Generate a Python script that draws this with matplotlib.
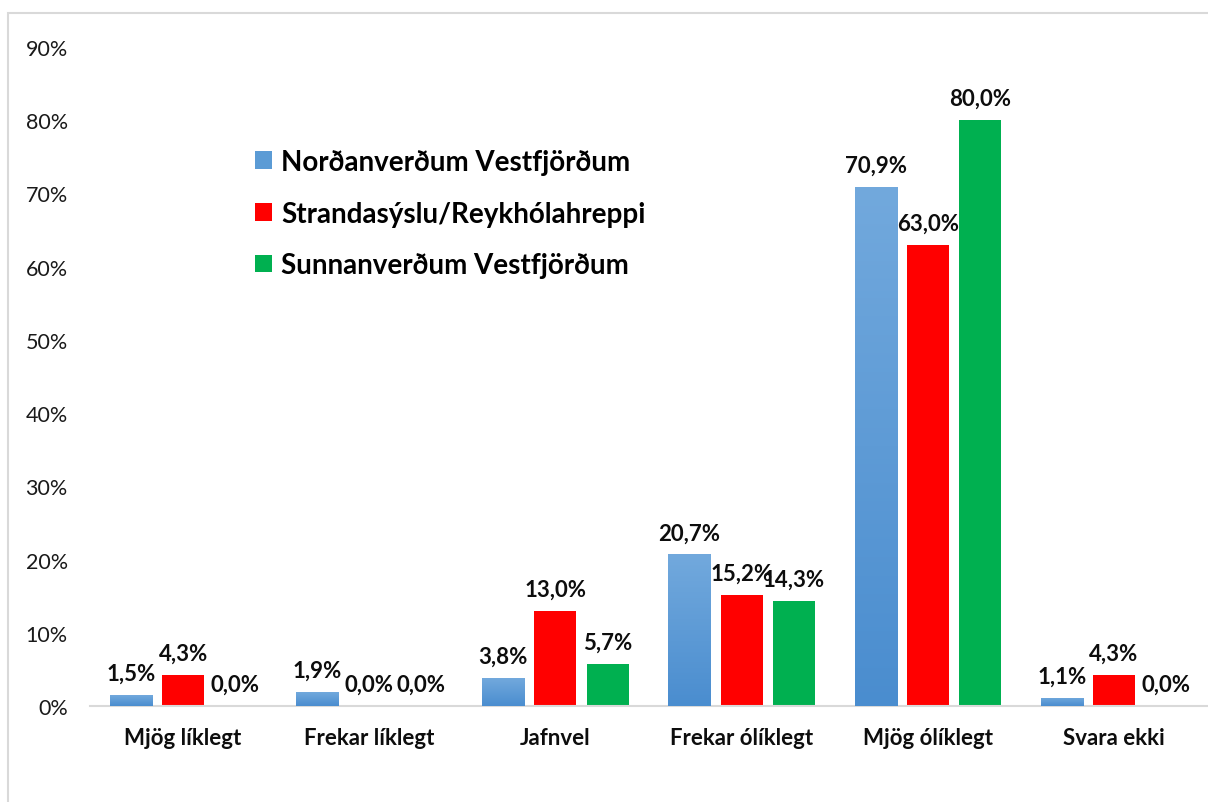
import matplotlib.pyplot as plt
import numpy as np
from matplotlib.colors import LinearSegmentedColormap
from matplotlib.patches import Rectangle

categories = ['Mjög líklegt', 'Frekar líklegt', 'Jafnvel',
              'Frekar ólíklegt', 'Mjög ólíklegt', 'Svara ekki']
series = ['Norðanverðum Vestfjörðum', 'Strandasýslu/Reykhólahreppi',
          'Sunnanverðum Vestfjörðum']
nord = [1.5, 1.9, 3.8, 20.7, 70.9, 1.1]
strand = [4.3, 0.0, 13.0, 15.2, 63.0, 4.3]
sunn = [0.0, 0.0, 5.7, 14.3, 80.0, 0.0]
yticks = [0, 10, 20, 30, 40, 50, 60, 70, 80, 90]

colors = ['#5B9BD5', '#FF0000', '#00B050']

plt.rcParams['font.family'] = ['Lato', 'DejaVu Sans']

W, H = 1208, 803
fig = plt.figure(figsize=(W / 100, H / 100), dpi=100)
fig.patches.append(Rectangle((8 / W, -0.1), 1.2, 1.1 - 14 / H,
                             transform=fig.transFigure, fill=False,
                             edgecolor='#D9D9D9', linewidth=1.5))

ax = fig.add_axes([90 / W, 1 - 707 / H, 1117 / W, (707 - 48) / H])

x = np.arange(len(categories))
w = 0.226
off = 0.28
all_bars = []
for i, (vals, c, name) in enumerate(zip([nord, strand, sunn], colors, series)):
    bars = ax.bar(x + (i - 1) * off, vals, w, color=c, label=name, zorder=2)
    all_bars.append(bars)
    for b, v in zip(bars, vals):
        ax.annotate(f'{v:.1f}%'.replace('.', ','),
                    (b.get_x() + b.get_width() / 2, v),
                    xytext=(0, 8), textcoords='offset points',
                    ha='center', va='bottom', fontsize=16,
                    fontweight='bold', color='#0D0D0D', zorder=4)

# gradient on the blue bars
cmap = LinearSegmentedColormap.from_list('bl', ['#4A8DCF', '#72A9DD'])
grad = np.linspace(0, 1, 256).reshape(-1, 1)
for b in all_bars[0]:
    im = ax.imshow(grad, extent=[b.get_x(), b.get_x() + b.get_width(), 0,
                                 b.get_height()],
                   origin='lower', aspect='auto', cmap=cmap, zorder=3)
    im.set_clip_path(b)

ax.set_xlim(-0.5, len(categories) - 0.5)
ax.set_ylim(0, 90)
ax.set_yticks(yticks)
ax.set_yticklabels([f'{t}%' for t in yticks])
ax.set_xticks(x)
ax.set_xticklabels(categories, fontweight='bold')
ax.tick_params(axis='y', length=0, pad=16, labelsize=15.5, labelcolor='#1A1A1A')
ax.tick_params(axis='x', length=0, pad=15, labelsize=16, labelcolor='#0D0D0D')
for s in ['top', 'right', 'left']:
    ax.spines[s].set_visible(False)
ax.spines['bottom'].set_color('#D9D9D9')
ax.spines['bottom'].set_linewidth(1.5)

ax.legend(loc='upper left', bbox_to_anchor=(255 / W, 1 - 150 / H),
          bbox_transform=fig.transFigure, frameon=False,
          prop={'size': 20, 'weight': 'bold'}, borderpad=0, borderaxespad=0,
          handlelength=0.6, handleheight=0.6, handletextpad=0.35,
          labelspacing=0.92)

fig.savefig('out.png', dpi=100)
